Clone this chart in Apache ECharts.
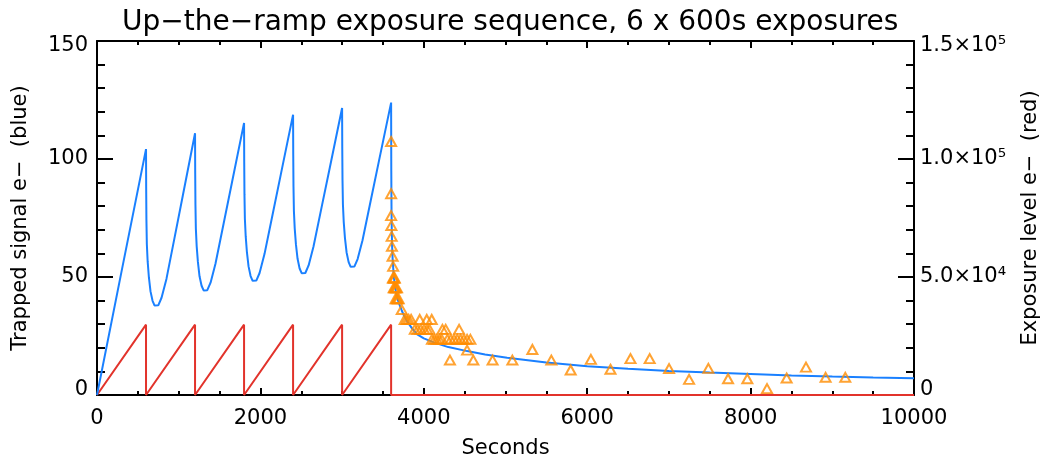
<!DOCTYPE html>
<html><head><meta charset="utf-8">
<script src="https://cdn.jsdelivr.net/npm/echarts@6/dist/echarts.min.js"></script>
<style>html,body{margin:0;padding:0;background:#fff}#c{width:1049px;height:464px}</style>
</head><body><div id="c"></div>
<script>
// Title / axis texts
const titleText = 'Up\u2212the\u2212ramp exposure sequence, 6 x 600s exposures';
const xName = 'Seconds';
const yLeftName = 'Trapped signal e\u2212  (blue)';
const yRightName = 'Exposure level e\u2212  (red)';
const rightTickLabels = ['0', '5.0\u00d710\u2074', '1.0\u00d710\u2075', '1.5\u00d710\u2075'];

// Exposure level (red), e-
const exposureT = [0, 600, 600, 1200, 1200, 1800, 1800, 2400, 2400, 3000, 3000, 3600, 3600, 10000];
const exposureV = [0, 29800, 0, 29800, 0, 29800, 0, 29800, 0, 29800, 0, 29800, 0, 0];

// Trapped signal model (blue), e-
const trapT = [
  0, 300, 600,
  602, 605, 610, 620, 635, 655, 680, 705, 725, 750, 790, 850, 950, 1050, 1200,
  1202, 1205, 1210, 1220, 1235, 1255, 1280, 1305, 1325, 1350, 1390, 1450, 1550, 1650, 1800,
  1802, 1805, 1810, 1820, 1835, 1855, 1880, 1905, 1925, 1950, 1990, 2050, 2150, 2250, 2400,
  2402, 2405, 2410, 2420, 2435, 2455, 2480, 2505, 2525, 2550, 2590, 2650, 2750, 2850, 3000,
  3002, 3005, 3010, 3020, 3035, 3055, 3080, 3105, 3125, 3150, 3190, 3250, 3350, 3450, 3600,
  3602, 3605, 3608, 3612, 3618, 3625, 3635, 3650, 3660, 3680, 3700, 3730, 3760, 3800, 3860, 3920,
  4000, 4130, 4300, 4530, 4750, 5020, 5500, 6000, 6500, 7000, 7500, 8000, 8500, 9000, 9500, 10000
];
const trapV = [
  0, 52.3, 104.2,
  87.5, 74.1, 64.0, 56.6, 49.9, 43.9, 39.9, 37.9, 37.2, 38.0, 41.2, 49.2, 66.8, 84.4, 110.9,
  94.1, 80.6, 70.5, 63.1, 56.4, 50.3, 46.3, 44.3, 43.6, 44.4, 47.6, 55.6, 72.7, 89.7, 115.3,
  98.4, 84.9, 74.7, 67.3, 60.5, 54.5, 50.4, 48.4, 47.7, 48.5, 51.7, 59.7, 76.6, 93.5, 118.8,
  101.8, 88.2, 78.1, 70.6, 63.8, 57.7, 53.6, 51.6, 50.9, 51.7, 54.9, 62.9, 79.7, 96.4, 121.6,
  104.6, 91.0, 80.8, 73.3, 66.5, 60.4, 56.3, 54.3, 53.6, 54.4, 57.6, 65.6, 82.3, 99.0, 123.9,
  95.0, 78.0, 70.0, 63.0, 58.0, 54.0, 49.5, 45.5, 43.5, 40.5, 38.5, 35.8, 33.4, 31.0, 28.0, 25.7,
  24.0, 22.2, 20.3, 18.6, 17.2, 15.8, 13.8, 12.2, 11.1, 10.2, 9.5, 8.9, 8.3, 7.8, 7.4, 7.1
];

// Measured trapped signal (orange triangles), e-
const measT = [
  3600, 3600, 3600, 3603, 3607, 3610, 3618, 3625,
  3622, 3630, 3638, 3645,
  3632, 3642, 3652, 3662, 3672,
  3655, 3668, 3680, 3692,
  3730,
  3766, 3790, 3815, 3845, 3950, 4036, 4097,
  3890, 3925, 3962, 4004, 4040, 4070, 4228, 4268, 4432,
  4100, 4130, 4160, 4190, 4220, 4289, 4330, 4370, 4410, 4450, 4490, 4530, 4570,
  4530, 4320, 4606, 4842, 5084, 5329, 5561, 5798, 6045, 6285, 6530, 6765,
  7002, 7247, 7483, 7724, 7960, 8201, 8441, 8678, 8918, 9159
];
const measV = [
  107.4, 85.3, 76.0, 71.8, 67.2, 63.0, 58.8, 54.5,
  49.6, 49.6, 49.6, 49.6,
  45.4, 45.4, 45.4, 45.4, 45.4,
  40.8, 40.8, 40.8, 40.8,
  36.2,
  32.0, 32.0, 32.0, 32.0, 32.0, 32.0, 32.0,
  27.8, 27.8, 27.8, 27.8, 27.8, 27.8, 27.8, 27.8, 27.8,
  23.6, 23.6, 23.6, 23.6, 23.6, 23.6, 23.6, 23.6, 23.6, 23.6, 23.6, 23.6, 23.6,
  19.0, 14.8, 14.8, 14.8, 14.8, 19.3, 14.8, 10.6, 15.1, 10.9, 15.4, 15.4,
  11.2, 6.6, 11.3, 6.9, 6.9, 2.7, 7.2, 11.8, 7.5, 7.5
];

const FONT = 'DejaVu Sans';
const FS = 21;
const zip = (a, b) => a.map((v, i) => [v, b[i]]);
const axisLine = { show: true, onZero: false, lineStyle: { color: '#000', width: 2 } };

const chart = echarts.init(document.getElementById('c'), null, { renderer: 'canvas' });
chart.setOption({
  animation: false,
  backgroundColor: '#fff',
  textStyle: { fontFamily: FONT },
  title: {
    text: titleText, left: 117, top: 4,
    textStyle: { fontFamily: FONT, fontSize: 28, fontWeight: 'normal', color: '#000' }
  },
  grid: { left: 97, right: 132, top: 41, bottom: 68, containLabel: false },
  xAxis: [
    {
      type: 'value', position: 'bottom', min: 0, max: 10000, interval: 2000,
      axisLine: axisLine,
      axisTick: { show: true, inside: true, length: 7, lineStyle: { color: '#000', width: 2 } },
      minorTick: { show: true, splitNumber: 4, length: 4, lineStyle: { color: '#000', width: 2 } },
      splitLine: { show: false },
      axisLabel: { color: '#000', fontSize: FS, fontFamily: FONT, margin: 13, formatter: v => String(v) },
      name: xName, nameLocation: 'middle', nameGap: 43,
      nameTextStyle: { color: '#000', fontSize: FS, fontFamily: FONT }
    },
    {
      type: 'value', position: 'top', min: 0, max: 10000, interval: 2000,
      axisLine: axisLine,
      axisTick: { show: true, inside: true, length: 7, lineStyle: { color: '#000', width: 2 } },
      minorTick: { show: true, splitNumber: 4, length: 4, lineStyle: { color: '#000', width: 2 } },
      splitLine: { show: false },
      axisLabel: { show: false }
    }
  ],
  yAxis: [
    {
      type: 'value', position: 'left', min: 0, max: 150, interval: 50,
      axisLine: axisLine,
      axisTick: { show: true, inside: true, length: 16, lineStyle: { color: '#000', width: 2 } },
      minorTick: { show: true, splitNumber: 5, length: 8, lineStyle: { color: '#000', width: 2 } },
      splitLine: { show: false },
      axisLabel: { color: '#000', fontSize: FS, fontFamily: FONT, margin: 9, lineHeight: 10,
        verticalAlignMinLabel: 'bottom', verticalAlignMaxLabel: 'top' },
      name: yLeftName, nameLocation: 'middle', nameGap: 66, nameRotate: 90,
      nameTextStyle: { color: '#000', fontSize: FS, fontFamily: FONT }
    },
    {
      type: 'value', position: 'right', min: 0, max: 150000, interval: 50000,
      axisLine: axisLine,
      axisTick: { show: true, inside: true, length: 16, lineStyle: { color: '#000', width: 2 } },
      minorTick: { show: true, splitNumber: 5, length: 8, lineStyle: { color: '#000', width: 2 } },
      splitLine: { show: false },
      axisLabel: {
        color: '#000', fontSize: FS, fontFamily: FONT, margin: 6, lineHeight: 10,
        verticalAlignMinLabel: 'bottom', verticalAlignMaxLabel: 'top',
        formatter: v => rightTickLabels[Math.round(v / 50000)]
      },
      name: yRightName, nameLocation: 'middle', nameGap: 106, nameRotate: 90,
      nameTextStyle: { color: '#000', fontSize: FS, fontFamily: FONT }
    }
  ],
  series: [
    {
      type: 'line', xAxisIndex: 0, yAxisIndex: 1, data: zip(exposureT, exposureV),
      showSymbol: false, symbol: 'none', z: 3,
      lineStyle: { color: '#e2332b', width: 2 }
    },
    {
      type: 'line', xAxisIndex: 0, yAxisIndex: 0, data: zip(trapT, trapV),
      showSymbol: false, symbol: 'none', z: 4,
      lineStyle: { color: '#1a80ff', width: 2 }
    },
    {
      type: 'scatter', xAxisIndex: 0, yAxisIndex: 0, data: zip(measT, measV),
      symbol: 'triangle', symbolSize: [10, 9], z: 5,
      itemStyle: { color: 'rgba(255,255,255,0)', borderColor: '#ff8c00', borderWidth: 2 }
    }
  ]
});
</script>
</body></html>
